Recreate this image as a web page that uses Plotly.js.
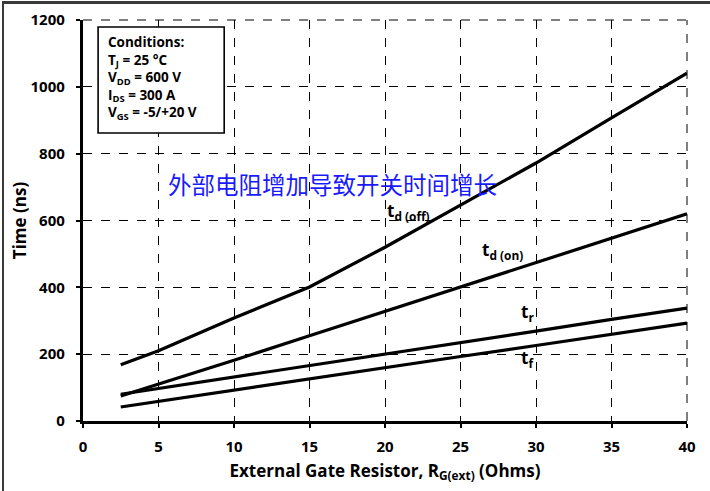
<!DOCTYPE html>
<html><head><meta charset="utf-8">
<script src="https://cdn.plot.ly/plotly-3.0.1.min.js"></script>
<style>
html,body{margin:0;padding:0;background:#fff;}
#wrap{position:relative;width:710px;height:491px;}
#chart{width:710px;height:491px;}
#frame{position:absolute;left:2px;top:1px;width:708px;height:490px;border-left:2px solid #3a3a3a;border-top:3px solid #3a3a3a;pointer-events:none;box-sizing:border-box;}
</style></head>
<body><div id="wrap"><div id="chart"></div><div id="frame"></div></div>
<script>
const resistance = [2.5, 5, 10, 15, 20, 25, 30, 35, 40];
const tdOff = [168, 210, 308, 401, 520, 646, 772, 907, 1041];
const tdOn  = [75, 110, 182, 255, 328, 402, 475, 548, 620];
const tR    = [80, 97, 131, 166, 200, 235, 269, 304, 338];
const tF    = [42, 59, 92, 126, 159, 193, 226, 260, 293];
const xTicks = [0, 5, 10, 15, 20, 25, 30, 35, 40];
const yTicks = [0, 200, 400, 600, 800, 1000, 1200];
const seriesLabels = [
  {t:'t', sub:'d (off)', x:20.0, y:628},
  {t:'t', sub:'d (on)', x:26.3, y:510},
  {t:'t', sub:'r', x:28.9, y:324},
  {t:'t', sub:'f', x:28.9, y:186}
];
const note = '外部电阻增加导致开关时间增长';
const conditions = ['Conditions:', 'T<sub>J</sub> = 25 °C', 'V<sub>DD</sub> = 600 V', 'I<sub>DS</sub> = 300 A', 'V<sub>GS</sub> = -5/+20 V'];

const font = 'Open Sans, Liberation Sans, sans-serif';
const line = {color:'#000', width:3.2};
const traces = [tdOff, tdOn, tR, tF].map(v => ({x:resistance, y:v, mode:'lines', line:line, hoverinfo:'skip', showlegend:false}));

const annotations = seriesLabels.map(l => ({
  x:l.x, y:l.y, xref:'x', yref:'y', showarrow:false, xanchor:'left',
  text:'<b>'+l.t+'<sub>'+l.sub+'</sub></b>', font:{family:font, size:17, color:'#000'}
}));
annotations.push({x:16.5, y:708, xref:'x', yref:'y', showarrow:false, text:note,
  font:{family:'Noto Sans CJK SC', size:23.5, color:'#1a1aff'}});
annotations.push({x:1.55, y:1166, xref:'x', yref:'y', showarrow:false, xanchor:'left', yanchor:'top', align:'left',
  text:'<b>'+conditions.join('<br>')+'</b>', font:{family:font, size:13.5, color:'#000'}});

const layout = {
  width:710, height:491,
  margin:{l:83, r:23, t:20, b:70},
  paper_bgcolor:'#fff', plot_bgcolor:'#fff',
  font:{family:font, color:'#000'},
  xaxis:{range:[0,40], tickvals:xTicks, ticktext:xTicks.map(String), showgrid:true, gridcolor:'#000', griddash:'dash', gridwidth:1,
    showline:true, linecolor:'#000', linewidth:3.2, zeroline:false, ticks:'outside', ticklen:4, tickwidth:2, tickcolor:'#000',
    ticklabelstandoff:6,
    tickfont:{family:font, size:15, weight:'bold'},
    title:{text:'<b>External Gate Resistor, R<sub>G(ext)</sub> (Ohms)</b>', font:{family:font, size:17}, standoff:10}},
  yaxis:{range:[0,1200], tickvals:yTicks, ticktext:yTicks.map(String), showgrid:true, gridcolor:'#000', griddash:'dash', gridwidth:1,
    showline:true, linecolor:'#000', linewidth:3.2, zeroline:false, ticks:'outside', ticklen:4, tickwidth:2, tickcolor:'#000',
    ticklabelstandoff:8,
    tickfont:{family:font, size:15, weight:'bold'},
    title:{text:'<b>Time (ns)</b>', font:{family:font, size:17}, standoff:0}},
  shapes:[
    {type:'line', xref:'paper', yref:'paper', x0:0, x1:1, y0:1, y1:1, line:{color:'#000', width:1, dash:'dash'}},
    {type:'line', xref:'paper', yref:'paper', x0:1, x1:1, y0:0, y1:1, line:{color:'#000', width:1, dash:'dash'}},
    {type:'rect', xref:'x', yref:'y', x0:1.0, x1:9.35, y0:862, y1:1179, fillcolor:'#fff', line:{color:'#000', width:1.6}, layer:'above'}
  ],
  annotations:annotations
};
Plotly.newPlot('chart', traces, layout, {staticPlot:true, displayModeBar:false});
</script></body></html>
